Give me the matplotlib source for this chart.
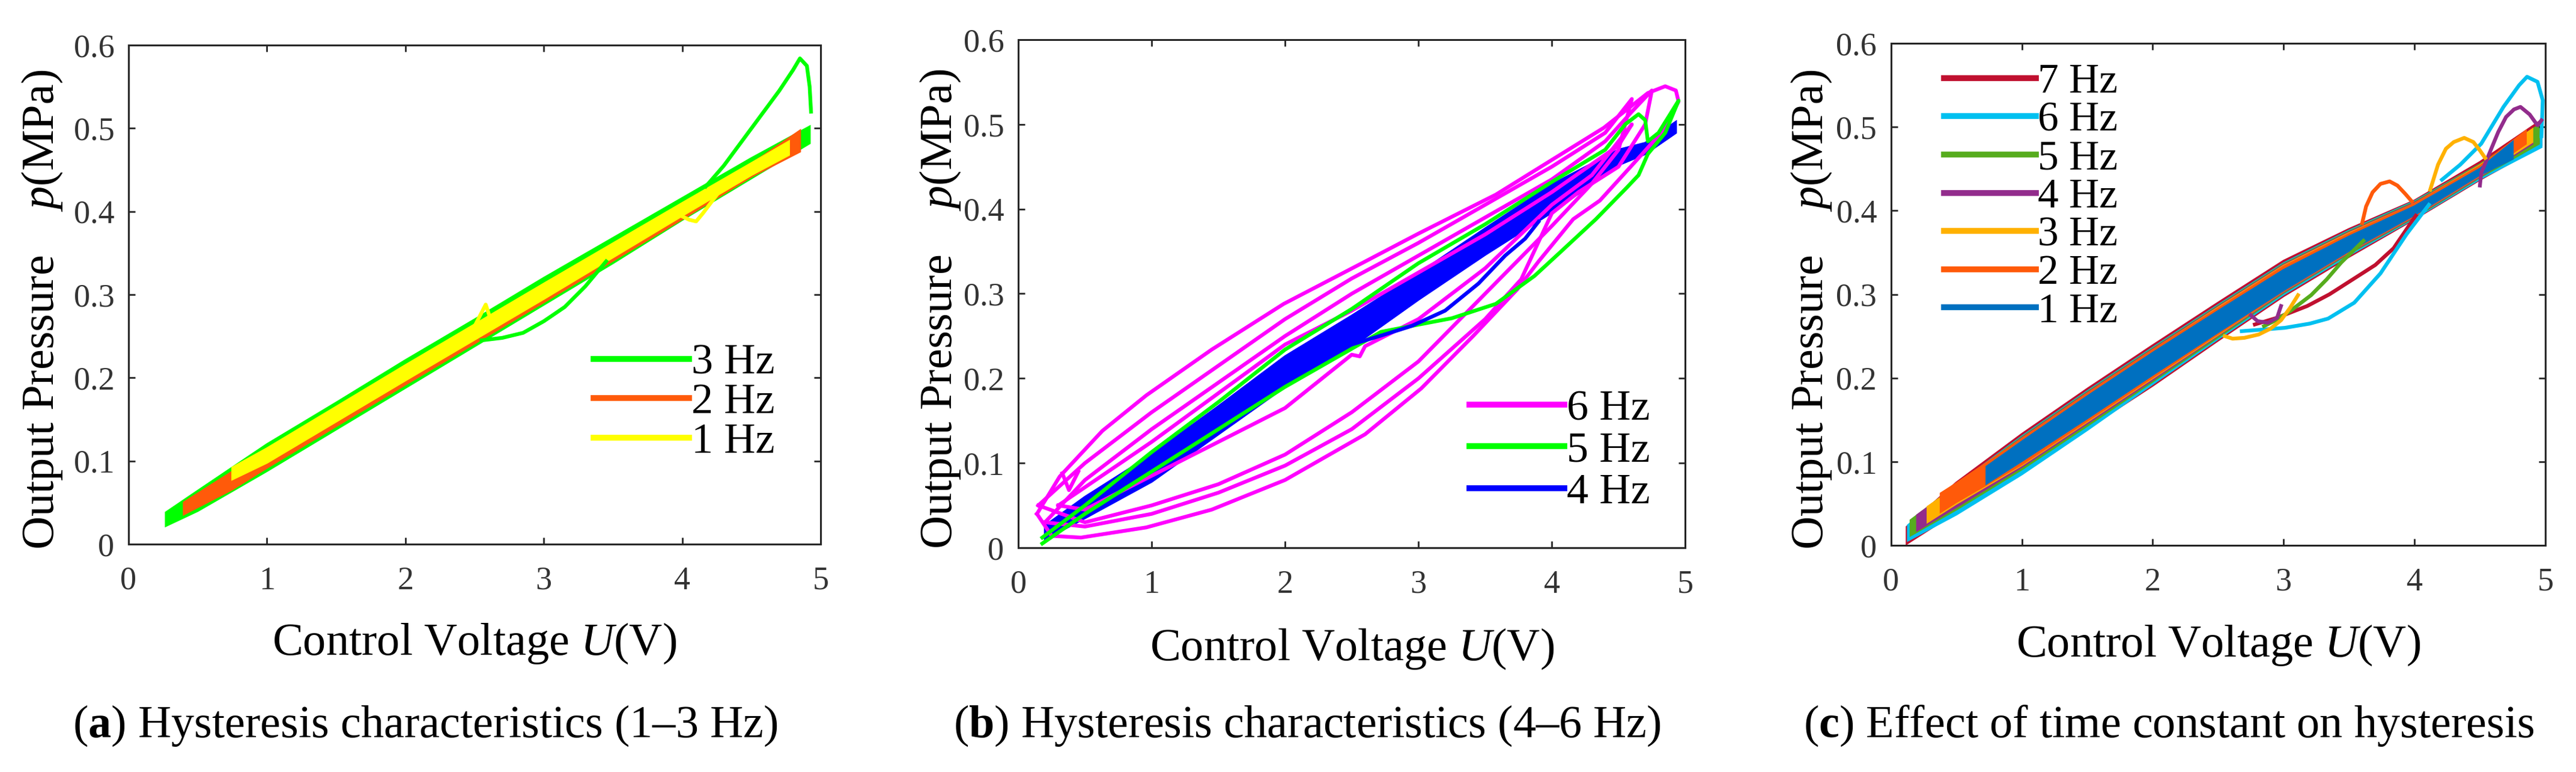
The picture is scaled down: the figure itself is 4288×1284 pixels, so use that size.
import matplotlib
matplotlib.use('Agg')
import matplotlib.pyplot as plt
import numpy as np
from matplotlib.lines import Line2D

plt.rcParams['font.family'] = ['Liberation Serif', 'DejaVu Serif']
plt.rcParams['mathtext.fontset'] = 'custom'
plt.rcParams['mathtext.rm'] = 'Liberation Serif'
plt.rcParams['mathtext.it'] = 'Liberation Serif:italic'
plt.rcParams['mathtext.bf'] = 'Liberation Serif:bold'

# ---------------- data ----------------
x_ticks = [0, 1, 2, 3, 4, 5]
y_ticks = [0, 0.1, 0.2, 0.3, 0.4, 0.5, 0.6]
y_tick_labels = ['0', '0.1', '0.2', '0.3', '0.4', '0.5', '0.6']

# (a) 1-3 Hz
a3_band_u = [0.27, 0.5, 1.0, 1.5, 2.0, 2.5, 3.0, 3.5, 4.0, 4.5, 4.92]
a3_band_hi = [0.038, 0.064, 0.120, 0.170, 0.221, 0.270, 0.320, 0.368, 0.416, 0.464, 0.502]
a3_band_lo = [0.022, 0.040, 0.088, 0.138, 0.188, 0.238, 0.288, 0.338, 0.390, 0.440, 0.482]
a3_peak_u = [4.17, 4.3, 4.5, 4.7, 4.8, 4.85, 4.9, 4.92, 4.93]
a3_peak_p = [0.430, 0.455, 0.500, 0.545, 0.570, 0.584, 0.575, 0.550, 0.520]
a3_dip_u = [2.55, 2.7, 2.85, 3.0, 3.15, 3.3, 3.45]
a3_dip_p = [0.245, 0.248, 0.254, 0.268, 0.285, 0.310, 0.340]

a2_band_u = [0.4, 0.75, 1.0, 2.0, 3.0, 4.0, 4.5, 4.85]
a2_band_hi = [0.050, 0.087, 0.111, 0.211, 0.309, 0.407, 0.457, 0.497]
a2_band_lo = [0.036, 0.066, 0.092, 0.192, 0.291, 0.391, 0.442, 0.472]

a1_band_u = [0.75, 1.0, 2.0, 3.0, 4.0, 4.5, 4.77]
a1_band_hi = [0.092, 0.115, 0.215, 0.313, 0.410, 0.458, 0.484]
a1_band_lo = [0.078, 0.098, 0.197, 0.295, 0.395, 0.444, 0.468]
a1_spike_u = [2.5, 2.58, 2.62]
a1_spike_p = [0.262, 0.288, 0.268]
a1_dip_u = [3.95, 4.05, 4.1, 4.15, 4.25]
a1_dip_p = [0.398, 0.390, 0.388, 0.398, 0.420]

# (b) 4-6 Hz
b4_band_u = [0.2, 0.5, 1.0, 1.5, 2.0, 2.5, 3.0, 3.5, 4.0, 4.5, 4.7, 4.93]
b4_band_hi = [0.026, 0.060, 0.110, 0.167, 0.226, 0.274, 0.324, 0.377, 0.429, 0.470, 0.478, 0.503]
b4_band_lo = [0.010, 0.035, 0.078, 0.134, 0.190, 0.237, 0.293, 0.346, 0.396, 0.452, 0.465, 0.490]
b4_tail_u = [2.5, 2.75, 2.95, 3.2, 3.45, 3.65, 3.8, 3.9]
b4_tail_p = [0.240, 0.252, 0.262, 0.280, 0.312, 0.345, 0.365, 0.385]

b5_loop_u = [0.18, 0.5, 1.0, 1.5, 2.0, 2.5, 3.0, 3.5, 4.0, 4.4, 4.55, 4.65, 4.7, 4.72, 4.8, 4.95,
             4.85, 4.72, 4.65, 4.56, 4.33, 4.07, 3.87, 3.58, 3.25, 2.95, 2.72, 2.5, 2.0, 1.5, 1.0, 0.5, 0.18]
b5_loop_p = [0.012, 0.050, 0.113, 0.172, 0.234, 0.282, 0.336, 0.382, 0.432, 0.470, 0.500, 0.512, 0.505, 0.480, 0.490, 0.528,
             0.490, 0.465, 0.440, 0.425, 0.388, 0.350, 0.321, 0.288, 0.271, 0.262, 0.255, 0.235, 0.190, 0.140, 0.090, 0.040, 0.005]

b6_loop1_u = [0.14, 0.31, 0.63, 0.96, 1.45, 1.99, 2.6, 3.0, 3.58, 4.0, 4.39, 4.72, 4.85, 4.93,
              4.95, 4.82, 4.62, 4.36, 4.16, 3.9, 3.74, 3.41, 3.02, 2.6, 2.0, 1.45, 0.96, 0.47, 0.25, 0.14]
b6_loop1_p = [0.040, 0.084, 0.138, 0.180, 0.234, 0.288, 0.338, 0.371, 0.417, 0.458, 0.496, 0.537, 0.545, 0.540,
              0.527, 0.490, 0.455, 0.410, 0.388, 0.338, 0.305, 0.250, 0.188, 0.134, 0.080, 0.045, 0.024, 0.012, 0.014, 0.040]
b6_loop2_u = [0.2, 0.5, 1.0, 1.5, 2.0, 2.5, 3.0, 3.5, 4.0, 4.4, 4.6, 4.75,
              4.7, 4.5, 4.2, 4.0, 3.77, 3.5, 3.0, 2.5, 2.0, 1.5, 1.0, 0.5, 0.2]
b6_loop2_p = [0.030, 0.080, 0.140, 0.195, 0.250, 0.300, 0.345, 0.390, 0.435, 0.480, 0.515, 0.540,
              0.500, 0.450, 0.420, 0.395, 0.317, 0.270, 0.200, 0.140, 0.097, 0.065, 0.040, 0.025, 0.030]
b6_loop3_u = [0.3, 1.0, 2.0, 2.5, 3.0, 3.5, 4.0, 4.5, 4.6,
              4.3, 4.0, 3.5, 3.0, 2.6, 2.56, 2.5, 2.0, 1.5, 1.0, 0.5, 0.3]
b6_loop3_p = [0.050, 0.125, 0.240, 0.280, 0.325, 0.370, 0.420, 0.475, 0.500,
              0.440, 0.405, 0.330, 0.270, 0.238, 0.226, 0.228, 0.165, 0.125, 0.085, 0.045, 0.050]
b6_loop4_u = [0.15, 0.5, 1.0, 1.5, 2.0, 2.5, 3.0, 3.5, 4.0, 4.4, 4.6,
              4.5, 4.3, 4.0, 3.5, 3.0, 2.5, 2.0, 1.5, 1.0, 0.5, 0.15]
b6_loop4_p = [0.050, 0.100, 0.160, 0.215, 0.270, 0.318, 0.360, 0.405, 0.450, 0.490, 0.530,
              0.470, 0.430, 0.380, 0.300, 0.220, 0.160, 0.110, 0.075, 0.050, 0.030, 0.050]
b6_notch_u = [0.33, 0.38, 0.45]
b6_notch_p = [0.088, 0.068, 0.090]

# (c) 1-7 Hz
c_freqs = ['7 Hz', '6 Hz', '5 Hz', '4 Hz', '3 Hz', '2 Hz', '1 Hz']
c_colors = ['#C0102F', '#00C0F0', '#56AC1D', '#922C8C', '#FFB100', '#FF5A0A', '#0070C0']
c7_band_u = [0.12, 0.5, 1.0, 1.5, 2.0, 2.5, 3.0, 3.5, 4.0, 4.5, 4.97]
c7_band_hi = [0.022, 0.075, 0.133, 0.187, 0.239, 0.290, 0.340, 0.378, 0.412, 0.458, 0.508]
c7_band_lo = [0.002, 0.040, 0.088, 0.140, 0.191, 0.245, 0.298, 0.345, 0.390, 0.437, 0.478]
c6_band_u = [0.13, 0.5, 1.0, 1.5, 2.0, 2.5, 3.0, 3.5, 4.0, 4.5, 4.97]
c6_band_hi = [0.024, 0.072, 0.130, 0.184, 0.236, 0.287, 0.337, 0.376, 0.411, 0.455, 0.500]
c6_band_lo = [0.006, 0.037, 0.085, 0.138, 0.193, 0.247, 0.300, 0.347, 0.391, 0.438, 0.476]
c5_band_u = [0.15, 0.5, 1.0, 1.5, 2.0, 2.5, 3.0, 3.5, 4.0, 4.5, 4.95]
c5_band_hi = [0.030, 0.071, 0.129, 0.183, 0.235, 0.286, 0.336, 0.375, 0.410, 0.455, 0.502]
c5_band_lo = [0.012, 0.043, 0.091, 0.143, 0.196, 0.249, 0.302, 0.349, 0.392, 0.440, 0.480]
c4_band_u = [0.2, 0.5, 1.0, 1.5, 2.0, 2.5, 3.0, 3.5, 4.0, 4.5, 4.9]
c4_band_hi = [0.036, 0.070, 0.128, 0.182, 0.234, 0.285, 0.335, 0.374, 0.409, 0.454, 0.495]
c4_band_lo = [0.018, 0.046, 0.094, 0.146, 0.198, 0.251, 0.303, 0.350, 0.393, 0.441, 0.480]
c3_band_u = [0.28, 0.5, 1.0, 1.5, 2.0, 2.5, 3.0, 3.5, 4.0, 4.5, 4.9]
c3_band_hi = [0.046, 0.070, 0.127, 0.181, 0.233, 0.284, 0.334, 0.373, 0.408, 0.454, 0.497]
c3_band_lo = [0.028, 0.050, 0.096, 0.148, 0.200, 0.252, 0.304, 0.351, 0.394, 0.442, 0.482]
c2_band_u = [0.38, 0.5, 1.0, 1.5, 2.0, 2.5, 3.0, 3.5, 4.0, 4.5, 4.85]
c2_band_hi = [0.062, 0.074, 0.127, 0.181, 0.233, 0.283, 0.333, 0.372, 0.408, 0.453, 0.495]
c2_band_lo = [0.040, 0.052, 0.097, 0.149, 0.201, 0.253, 0.304, 0.351, 0.394, 0.442, 0.480]
c1_band_u = [0.73, 1.0, 1.5, 2.0, 2.5, 3.0, 3.5, 4.0, 4.5, 4.75]
c1_band_hi = [0.094, 0.124, 0.178, 0.230, 0.280, 0.329, 0.369, 0.405, 0.450, 0.482]
c1_band_lo = [0.074, 0.101, 0.152, 0.204, 0.255, 0.305, 0.352, 0.395, 0.443, 0.462]

c6_peak_u = [4.21, 4.35, 4.51, 4.68, 4.8, 4.86, 4.94, 4.98, 4.97]
c6_peak_p = [0.437, 0.455, 0.480, 0.524, 0.550, 0.560, 0.554, 0.532, 0.489]
c6_dip_u = [2.68, 2.85, 3.01, 3.2, 3.34, 3.54, 3.74, 3.94, 4.11]
c6_dip_p = [0.256, 0.258, 0.260, 0.265, 0.271, 0.290, 0.325, 0.372, 0.407]
c7_dip_u = [2.78, 2.95, 3.18, 3.35, 3.51, 3.7, 3.84, 4.01]
c7_dip_p = [0.264, 0.272, 0.286, 0.300, 0.316, 0.335, 0.355, 0.394]
c5_dip_u = [2.85, 2.94, 3.05, 3.21, 3.33, 3.44, 3.61]
c5_dip_p = [0.262, 0.269, 0.280, 0.299, 0.318, 0.338, 0.364]
c4_peak_u = [4.5, 4.51, 4.55, 4.64, 4.7, 4.76, 4.81, 4.88, 4.94, 4.97]
c4_peak_p = [0.430, 0.445, 0.460, 0.494, 0.512, 0.521, 0.524, 0.515, 0.502, 0.508]
c4_dip_u = [2.75, 2.8, 2.88, 2.95, 2.98]
c4_dip_p = [0.275, 0.268, 0.266, 0.272, 0.286]
c3_dip_u = [2.55, 2.61, 2.7, 2.81, 2.9, 2.98, 3.05, 3.11]
c3_dip_p = [0.250, 0.247, 0.248, 0.252, 0.259, 0.269, 0.284, 0.299]
c3_peak_u = [4.12, 4.18, 4.24, 4.3, 4.38, 4.45, 4.5, 4.54]
c3_peak_p = [0.425, 0.455, 0.474, 0.482, 0.487, 0.482, 0.472, 0.463]
c2_peak_u = [3.6, 3.63, 3.68, 3.74, 3.81, 3.87, 3.93, 3.98]
c2_peak_p = [0.385, 0.405, 0.422, 0.432, 0.435, 0.430, 0.420, 0.411]

# ---------------- drawing ----------------
AX_COL = '#262626'
LW = 4.5


def band(ax, u, hi, lo, color):
    u = np.asarray(u)
    xs = np.concatenate([u, u[::-1]])
    ys = np.concatenate([np.asarray(hi), np.asarray(lo)[::-1]])
    ax.fill(xs, ys, facecolor=color, edgecolor=color, lw=2.5)


def style(ax):
    ax.set_xlim(0, 5)
    ax.set_ylim(0, 0.6)
    ax.set_xticks(x_ticks)
    ax.set_yticks(y_ticks)
    ax.set_yticklabels(y_tick_labels)
    ax.tick_params(direction='in', top=True, right=True, length=8, width=2,
                   color=AX_COL, labelsize=39, labelcolor='#333333')
    ax.tick_params(axis='x', pad=26)
    ax.tick_params(axis='y', pad=17)
    for s in ax.spines.values():
        s.set_linewidth(2.2)
        s.set_color(AX_COL)
    ax.set_xlabel('Control Voltage $U$(V)', fontsize=55)
    ax.set_ylabel('Output Pressure    $p$(MPa)', fontsize=55)
    ax.xaxis.set_label_coords(0.5, -0.155)


def add_legend(ax, colors, labels, loc, anchor, size, spacing):
    handles = [Line2D([0], [0], color=c, lw=7) for c in colors]
    ax.legend(handles, labels, loc=loc, bbox_to_anchor=anchor, frameon=False,
              fontsize=size, handlelength=2.2, handletextpad=0.05,
              labelspacing=spacing, borderpad=0, borderaxespad=0)


fig = plt.figure(figsize=(42.88, 12.84), dpi=100)
ax_a = fig.add_axes([0.0499, 0.2952, 0.2687, 0.6464])
ax_b = fig.add_axes([0.3953, 0.2905, 0.2589, 0.6581])
ax_c = fig.add_axes([0.7341, 0.2936, 0.2540, 0.6503])

# (a)
band(ax_a, a3_band_u, a3_band_hi, a3_band_lo, '#00FF00')
ax_a.plot(a3_peak_u, a3_peak_p, color='#00FF00', lw=LW)
ax_a.plot(a3_dip_u, a3_dip_p, color='#00FF00', lw=LW)
band(ax_a, a2_band_u, a2_band_hi, a2_band_lo, '#FF5A0A')
band(ax_a, a1_band_u, a1_band_hi, a1_band_lo, '#FFFF00')
ax_a.plot(a1_spike_u, a1_spike_p, color='#FFFF00', lw=LW)
ax_a.plot(a1_dip_u, a1_dip_p, color='#FFFF00', lw=LW)
style(ax_a)
ax_a.yaxis.set_label_coords(-0.093, 0.47)
add_legend(ax_a, ['#00FF00', '#FF5A0A', '#FFFF00'], ['3 Hz', '2 Hz', '1 Hz'],
           'lower left', (0.672, 0.165), 52, 0.0)

# (b)
for lu, lp in [(b6_loop1_u, b6_loop1_p), (b6_loop4_u, b6_loop4_p), (b6_loop2_u, b6_loop2_p),
               (b6_loop3_u, b6_loop3_p), (b6_notch_u, b6_notch_p)]:
    ax_b.plot(lu, lp, color='#FF00FF', lw=LW)
ax_b.plot(b5_loop_u, b5_loop_p, color='#00FF00', lw=LW)
band(ax_b, b4_band_u, b4_band_hi, b4_band_lo, '#0000FF')
ax_b.plot(b4_tail_u, b4_tail_p, color='#0000FF', lw=LW)
style(ax_b)
ax_b.yaxis.set_label_coords(-0.084, 0.47)
add_legend(ax_b, ['#FF00FF', '#00FF00', '#0000FF'], ['6 Hz', '5 Hz', '4 Hz'],
           'lower left', (0.676, 0.07), 52, 0.05)

# (c)
c_bands = [(c7_band_u, c7_band_hi, c7_band_lo), (c6_band_u, c6_band_hi, c6_band_lo),
           (c5_band_u, c5_band_hi, c5_band_lo), (c4_band_u, c4_band_hi, c4_band_lo),
           (c3_band_u, c3_band_hi, c3_band_lo), (c2_band_u, c2_band_hi, c2_band_lo),
           (c1_band_u, c1_band_hi, c1_band_lo)]
for (bu, bh, bl), col in zip(c_bands, c_colors):
    band(ax_c, bu, bh, bl, col)
ax_c.plot(c7_dip_u, c7_dip_p, color=c_colors[0], lw=LW)
ax_c.plot(c6_peak_u, c6_peak_p, color=c_colors[1], lw=LW)
ax_c.plot(c6_dip_u, c6_dip_p, color=c_colors[1], lw=LW)
ax_c.plot(c5_dip_u, c5_dip_p, color=c_colors[2], lw=LW)
ax_c.plot(c4_peak_u, c4_peak_p, color=c_colors[3], lw=LW)
ax_c.plot(c4_dip_u, c4_dip_p, color=c_colors[3], lw=LW)
ax_c.plot(c3_dip_u, c3_dip_p, color=c_colors[4], lw=LW)
ax_c.plot(c3_peak_u, c3_peak_p, color=c_colors[4], lw=LW)
ax_c.plot(c2_peak_u, c2_peak_p, color=c_colors[5], lw=LW)
style(ax_c)
ax_c.yaxis.set_label_coords(-0.088, 0.47)
add_legend(ax_c, c_colors, c_freqs, 'upper left', (0.081, 0.96), 50, 0.0)

# captions
fig.text(0.165, 0.06, r'($\mathbf{a}$) Hysteresis characteristics (1–3 Hz)', fontsize=55,
         ha='center', va='center')
fig.text(0.5075, 0.06, r'($\mathbf{b}$) Hysteresis characteristics (4–6 Hz)', fontsize=55,
         ha='center', va='center')
fig.text(0.842, 0.06, r'($\mathbf{c}$) Effect of time constant on hysteresis', fontsize=55,
         ha='center', va='center')

fig.savefig('out.png', dpi=100)
